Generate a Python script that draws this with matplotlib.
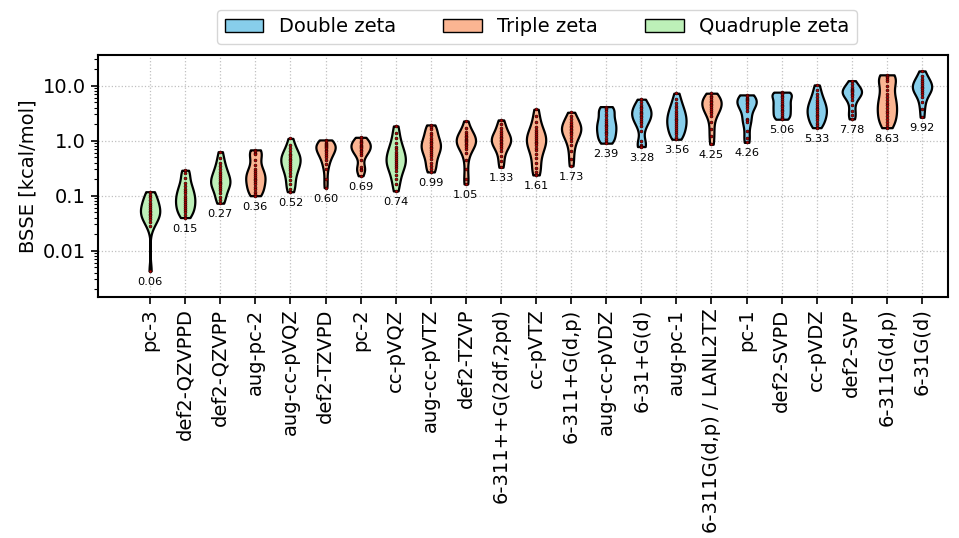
import numpy as np
import matplotlib
matplotlib.use("Agg")
import matplotlib.pyplot as plt
from matplotlib.patches import Patch
from matplotlib.ticker import NullFormatter

# Basis sets, ordered by mean BSSE
basis_sets = [
    "pc-3", "def2-QZVPPD", "def2-QZVPP", "aug-pc-2", "aug-cc-pVQZ", "def2-TZVPD",
    "pc-2", "cc-pVQZ", "aug-cc-pVTZ", "def2-TZVP", "6-311++G(2df,2pd)", "cc-pVTZ",
    "6-311+G(d,p)", "aug-cc-pVDZ", "6-31+G(d)", "aug-pc-1", "6-311G(d,p) / LANL2TZ",
    "pc-1", "def2-SVPD", "cc-pVDZ", "def2-SVP", "6-311G(d,p)", "6-31G(d)",
]

zeta_level = [
    "Q", "Q", "Q", "T", "Q", "T",
    "T", "Q", "T", "T", "T", "T",
    "T", "D", "D", "D", "T",
    "D", "D", "D", "D", "T", "D",
]

mean_bsse = [0.06, 0.15, 0.27, 0.36, 0.52, 0.60, 0.69, 0.74, 0.99, 1.05, 1.33, 1.61,
             1.73, 2.39, 3.28, 3.56, 4.25, 4.26, 5.06, 5.33, 7.78, 8.63, 9.92]

# BSSE per system (kcal/mol) for each basis set
bsse_pc3 = [0.118, 0.105, 0.095, 0.085, 0.075, 0.068, 0.062, 0.057, 0.053, 0.05,
            0.047, 0.044, 0.041, 0.037, 0.033, 0.028, 0.0043]
bsse_def2_qzvppd = [0.29, 0.26, 0.21, 0.17, 0.15, 0.135, 0.12, 0.11, 0.1, 0.092,
                    0.085, 0.078, 0.072, 0.066, 0.06, 0.055, 0.05, 0.045, 0.04]
bsse_def2_qzvpp = [0.63, 0.48, 0.4, 0.34, 0.3, 0.27, 0.245, 0.225, 0.21, 0.195, 0.18,
                   0.17, 0.16, 0.15, 0.14, 0.125, 0.11, 0.095, 0.083, 0.073]
bsse_aug_pc2 = [0.68, 0.64, 0.6, 0.56, 0.44, 0.36, 0.31, 0.28, 0.26, 0.24, 0.22,
                0.205, 0.19, 0.175, 0.16, 0.145, 0.13, 0.118, 0.108, 0.1]
bsse_aug_cc_pvqz = [1.1, 0.85, 0.72, 0.64, 0.58, 0.54, 0.5, 0.47, 0.44, 0.41, 0.38,
                    0.35, 0.32, 0.29, 0.26, 0.225, 0.19, 0.16, 0.135, 0.118]
bsse_def2_tzvpd = [1.03, 0.97, 0.92, 0.88, 0.84, 0.8, 0.76, 0.72, 0.68, 0.64, 0.6,
                   0.55, 0.5, 0.44, 0.37, 0.3, 0.2, 0.14]
bsse_pc2 = [1.15, 1.08, 1.0, 0.94, 0.89, 0.84, 0.8, 0.76, 0.72, 0.68, 0.64, 0.6,
            0.55, 0.45, 0.33, 0.31, 0.29, 0.23]
bsse_cc_pvqz = [1.85, 1.4, 1.1, 0.9, 0.78, 0.7, 0.63, 0.57, 0.52, 0.48, 0.44, 0.41,
                0.38, 0.35, 0.32, 0.28, 0.24, 0.2, 0.16, 0.122]
bsse_aug_cc_pvtz = [1.93, 1.8, 1.6, 1.4, 1.25, 1.12, 1.02, 0.95, 0.89, 0.83, 0.78,
                    0.73, 0.68, 0.63, 0.58, 0.52, 0.46, 0.4, 0.34, 0.3, 0.27]
bsse_def2_tzvp = [2.28, 1.7, 1.45, 1.32, 1.22, 1.15, 1.09, 1.03, 0.98, 0.93, 0.88,
                  0.83, 0.77, 0.7, 0.6, 0.45, 0.3, 0.2, 0.163]
bsse_6311ppg = [2.38, 2.0, 1.7, 1.5, 1.36, 1.25, 1.17, 1.1, 1.04, 0.98, 0.92, 0.86,
                0.8, 0.73, 0.64, 0.53, 0.42, 0.328]
bsse_cc_pvtz = [3.72, 2.8, 2.2, 1.8, 1.58, 1.42, 1.3, 1.2, 1.11, 1.03, 0.96, 0.89,
                0.82, 0.75, 0.67, 0.58, 0.49, 0.4, 0.32, 0.27, 0.238]
bsse_6311pg_dp = [3.28, 2.8, 2.45, 2.2, 2.02, 1.88, 1.76, 1.65, 1.55, 1.45, 1.35,
                  1.24, 1.12, 0.98, 0.82, 0.64, 0.47, 0.347]
bsse_aug_cc_pvdz = [4.15, 3.95, 3.75, 3.5, 3.1, 2.75, 2.5, 2.3, 2.12, 1.96, 1.82,
                    1.69, 1.57, 1.46, 1.35, 1.24, 1.13, 1.03, 0.96, 0.9]
bsse_631pg_d = [5.66, 5.0, 4.5, 4.15, 3.85, 3.6, 3.38, 3.18, 3.0, 2.82, 2.65, 2.48,
                2.3, 2.1, 1.85, 1.5, 1.0, 0.85, 0.8, 0.78]
bsse_aug_pc1 = [7.28, 5.8, 4.9, 4.3, 3.85, 3.5, 3.2, 2.95, 2.72, 2.52, 2.34, 2.17,
                2.01, 1.86, 1.72, 1.58, 1.44, 1.3, 1.17, 1.06]
bsse_6311g_lanl2tz = [7.28, 6.6, 6.1, 5.7, 5.35, 5.0, 4.7, 4.4, 4.1, 3.8, 3.5, 3.2,
                      2.8, 2.2, 1.6, 1.2, 0.86]
bsse_pc1 = [6.78, 6.4, 6.05, 5.75, 5.45, 5.15, 4.85, 4.55, 4.25, 3.9, 3.4, 2.5, 2.35,
            2.2, 1.5, 1.1, 0.93]
bsse_def2_svpd = [7.6, 7.45, 7.25, 7.0, 6.6, 6.1, 5.6, 5.2, 4.85, 4.5, 4.2, 3.9, 3.65,
                  3.4, 3.15, 2.9, 2.7, 2.55, 2.45]
bsse_cc_pvdz = [10.3, 8.3, 7.0, 6.1, 5.5, 5.0, 4.6, 4.25, 3.95, 3.68, 3.43, 3.2, 2.98,
                2.76, 2.55, 2.34, 2.13, 1.93, 1.72]
bsse_def2_svp = [12.3, 10.5, 9.5, 8.8, 8.3, 7.9, 7.5, 7.1, 6.7, 6.2, 5.5, 4.5, 3.5,
                 2.9, 2.48]
bsse_6311g_dp = [15.7, 15.0, 14.2, 13.3, 12.0, 10.0, 8.2, 7.0, 6.1, 5.4, 4.85, 4.35,
                 3.9, 3.5, 3.15, 2.8, 2.5, 2.2, 1.95, 1.72]
bsse_631g_d = [18.5, 15.0, 13.2, 12.0, 11.1, 10.3, 9.6, 9.0, 8.4, 7.8, 7.1, 6.2, 5.0,
               3.8, 2.66]

bsse_data = [
    bsse_pc3, bsse_def2_qzvppd, bsse_def2_qzvpp, bsse_aug_pc2, bsse_aug_cc_pvqz,
    bsse_def2_tzvpd, bsse_pc2, bsse_cc_pvqz, bsse_aug_cc_pvtz, bsse_def2_tzvp,
    bsse_6311ppg, bsse_cc_pvtz, bsse_6311pg_dp, bsse_aug_cc_pvdz, bsse_631pg_d,
    bsse_aug_pc1, bsse_6311g_lanl2tz, bsse_pc1, bsse_def2_svpd, bsse_cc_pvdz,
    bsse_def2_svp, bsse_6311g_dp, bsse_631g_d,
]

zeta_colors = {"D": "#87CEEB", "T": "#FBB592", "Q": "#BDF0B8"}
zeta_names = {"D": "Double zeta", "T": "Triple zeta", "Q": "Quadruple zeta"}

plt.rcParams["font.family"] = ["DejaVu Sans"]

fig = plt.figure(figsize=(9.59, 5.38), dpi=100)
ax = fig.add_axes([0.102, 0.4485, 0.8865, 0.4493])

positions = np.arange(len(basis_sets))

# KDE in log10 space, then map the outline back to kcal/mol for the log axis
log_data = [np.log10(np.asarray(d)) for d in bsse_data]
parts = ax.violinplot(log_data, positions=positions, widths=0.55, bw_method=0.42,
                      showextrema=False, showmeans=False, showmedians=False)
for body, z in zip(parts["bodies"], zeta_level):
    for p in body.get_paths():
        v = p.vertices.copy()
        v[:, 1] = 10.0 ** v[:, 1]
        p.vertices = v
    body.set_facecolor(zeta_colors[z])
    body.set_edgecolor("black")
    body.set_linewidth(1.6)
    body.set_alpha(1.0)
    body.set_zorder(2)

# individual systems
for x, d in zip(positions, bsse_data):
    ax.scatter(np.full(len(d), x), d, s=4, facecolor="#c00000",
               edgecolor="#300000", linewidths=0.5, zorder=3)

# mean labels under each violin
for x, d, m in zip(positions, bsse_data, mean_bsse):
    ax.text(x, min(d) * 0.78, f"{m:.2f}", ha="center", va="top", fontsize=8.2)

ax.set_yscale("log")
ax.set_ylim(0.00146, 36.0)
ax.set_xlim(-1.49, 22.74)
ax.set_yticks([0.01, 0.1, 1.0, 10.0], ["0.01", "0.1", "1.0", "10.0"])
ax.yaxis.set_minor_formatter(NullFormatter())
ax.set_xticks(positions, basis_sets, rotation=90)
ax.tick_params(axis="both", which="major", labelsize=14, length=5, width=1.2)
ax.tick_params(axis="y", which="minor", length=3, width=0.8)
ax.set_ylabel("BSSE [kcal/mol]", fontsize=14)
ax.grid(True, which="major", linestyle=":", color="#c0c0c0", linewidth=0.9)
ax.set_axisbelow(True)
for s in ax.spines.values():
    s.set_linewidth(1.5)

handles = [Patch(facecolor=zeta_colors[k], edgecolor="black", label=zeta_names[k])
           for k in ("D", "T", "Q")]
fig.legend(handles=handles, loc="upper center", ncol=3, fontsize=14,
           columnspacing=2.4, bbox_to_anchor=(537 / 959, 1.0), frameon=True)

fig.savefig("out.png", dpi=100)
